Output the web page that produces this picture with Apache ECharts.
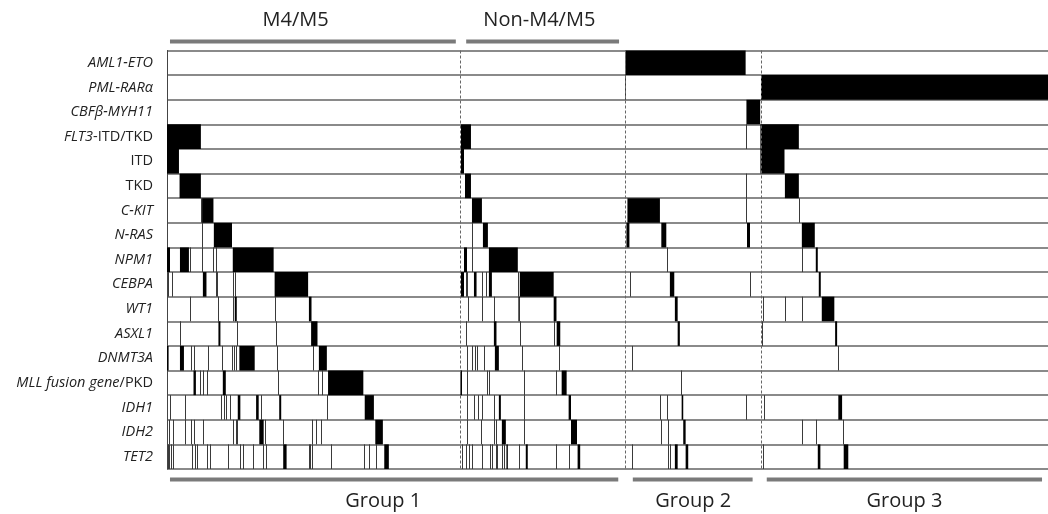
<!DOCTYPE html>
<html>
<head>
<meta charset="utf-8">
<script src="https://cdn.jsdelivr.net/npm/echarts@6/dist/echarts.min.js"></script>
<style>
  html, body { margin: 0; background: #fff; }
  #chart { width: 1048px; height: 514px; }
</style>
</head>
<body>
<div id="chart"></div>
<script>
// rows, top to bottom
const genes = ['AML1-ETO', 'PML-RARα', 'CBFβ-MYH11', 'FLT3-ITD/TKD', 'ITD', 'TKD', 'C-KIT', 'N-RAS',
  'NPM1', 'CEBPA', 'WT1', 'ASXL1', 'DNMT3A', 'MLL fusion gene/PKD', 'IDH1', 'IDH2', 'TET2'];

// x runs over patients (sample index)
const sampleMax = 442;
const groupBreaks = [147.25, 230, 298];

// mutated patients: [row, from, to]
const blocks = [
  [0, 230, 290.3],
  [1, 298, 442],
  [2, 290.7, 297.6],
  [3, 0, 17], [3, 147.5, 152.5], [3, 297.7, 317],
  [4, 0, 6], [4, 147.5, 149], [4, 297.7, 309.8],
  [5, 6.3, 17], [5, 149.5, 152.5], [5, 310, 317],
  [6, 17.6, 23.3], [6, 153, 158], [6, 231, 247.3],
  [7, 23.5, 32.6], [7, 158.5, 161], [7, 230.5, 232], [7, 248, 250.5], [7, 291, 292.5], [7, 318.5, 325],
  [8, 0, 1.5], [8, 6.5, 11], [8, 33, 53.5], [8, 149, 150.5], [8, 161.5, 176], [8, 325.5, 326.5],
  [9, 18, 19.8], [9, 54, 70.8], [9, 147.5, 149], [9, 154, 155.3], [9, 161.5, 163], [9, 177, 194],
  [9, 252.3, 254.5], [9, 327, 328],
  [10, 34, 35], [10, 71.2, 72.5], [10, 176.3, 177], [10, 194, 195.4], [10, 254.8, 256.2], [10, 328.5, 334.8],
  [11, 25.8, 26.8], [11, 72.3, 75.5], [11, 164, 165.3], [11, 195.5, 197.3], [11, 256.2, 257.3], [11, 335.2, 336.2],
  [12, 0, 0.8], [12, 6.5, 8.5], [12, 36.3, 44], [12, 76.2, 80.2], [12, 164.5, 166.5],
  [13, 13.3, 14.5], [13, 28, 29.5], [13, 80.8, 98.5], [13, 147.2, 148], [13, 198, 200.5],
  [14, 35.5, 36.8], [14, 44.7, 46], [14, 56.3, 57.3], [14, 99.2, 103.8], [14, 166.5, 167.5], [14, 201.5, 202.7],
  [14, 258.2, 259], [14, 336.8, 338.7],
  [15, 46.3, 48.5], [15, 104.5, 108.3], [15, 168, 170], [15, 202.7, 205.7], [15, 259, 260.2],
  [16, 58.3, 60], [16, 109, 111.3], [16, 170.3, 171], [16, 180, 181], [16, 206, 207.3], [16, 254.8, 256.2],
  [16, 260.2, 261.5], [16, 326.5, 327.8], [16, 339.5, 341.8]
];

// single patients with another mutation drawn as thin rules: [row, at]
const ticks = [
  [1, 230],
  [3, 290.7], [5, 290.7],
  [6, 17.2], [6, 290.7], [6, 317],
  [7, 17.6], [7, 153],
  [8, 11.3], [8, 17.5], [8, 23.3], [8, 24.5], [8, 153], [8, 250.7], [8, 318.5],
  [9, 0.7], [9, 2.3], [9, 24.5], [9, 25.2], [9, 33.2], [9, 34], [9, 150], [9, 150.4], [9, 158], [9, 160],
  [9, 176], [9, 232.3], [9, 292.7],
  [10, 11.7], [10, 25.5], [10, 33.2], [10, 54.2], [10, 151], [10, 158], [10, 164], [10, 299], [10, 310], [10, 318.5],
  [11, 6.5], [11, 35], [11, 54.5], [11, 150], [11, 177.3], [11, 194], [11, 298.5],
  [12, 12], [12, 13.3], [12, 20.7], [12, 27.5], [12, 32.5], [12, 33.5], [12, 34.8], [12, 55], [12, 73],
  [12, 150.5], [12, 153], [12, 154.5], [12, 155.5], [12, 159], [12, 178], [12, 196.5], [12, 233.2], [12, 336.5],
  [13, 16.5], [13, 18.3], [13, 20.3], [13, 55.5], [13, 76], [13, 78], [13, 150.5], [13, 160.7], [13, 161.5],
  [13, 179], [13, 195], [13, 257.8],
  [14, 1.3], [14, 9], [14, 27.3], [14, 28.5], [14, 29.8], [14, 31.5], [14, 47.3], [14, 80.5], [14, 150.5],
  [14, 154], [14, 156], [14, 158], [14, 164], [14, 179], [14, 247.3], [14, 250.7], [14, 290.7], [14, 299.3],
  [15, 0.8], [15, 3], [15, 9], [15, 11.8], [15, 13.3], [15, 18], [15, 33.3], [15, 34.5], [15, 35.3], [15, 49],
  [15, 58], [15, 72.5], [15, 74.8], [15, 77.5], [15, 150.5], [15, 157.3], [15, 164], [15, 165.3], [15, 179],
  [15, 247.8], [15, 251.5], [15, 318.5], [15, 325.7], [15, 339],
  [16, 0.3], [16, 1], [16, 1.8], [16, 3.2], [16, 12.5], [16, 13.8], [16, 14.9], [16, 19.9], [16, 21.5], [16, 30.7],
  [16, 36.5], [16, 38.2], [16, 43], [16, 48.3], [16, 49.8], [16, 71], [16, 71.8], [16, 72.8], [16, 82.3], [16, 99],
  [16, 101.5], [16, 104.8], [16, 148], [16, 150], [16, 151.5], [16, 153], [16, 158], [16, 162], [16, 163],
  [16, 165], [16, 165.7], [16, 168], [16, 169.3], [16, 176.5], [16, 195], [16, 201.5], [16, 233.5], [16, 251.5],
  [16, 252.3], [16, 299]
];

// brackets above and below: [from, to]
const topSpans = [[1.5, 144.9], [150.1, 226.8]];
const topNames = ['M4/M5', 'Non-M4/M5'];
const topCenters = [64.5, 186.8];
const bottomSpans = [[1.5, 226.4], [233.7, 293.8], [300.9, 439]];
const bottomNames = ['Group 1', 'Group 2', 'Group 3'];
const bottomCenters = [108.5, 264, 370];

const chart = echarts.init(document.getElementById('chart'));

function geneLabel(name) {
  if (name === 'ITD' || name === 'TKD') return '{n|' + name + '}';
  if (name === 'FLT3-ITD/TKD') return '{i|FLT3}{n|-ITD/TKD}';
  if (name === 'MLL fusion gene/PKD') return '{i|MLL fusion gene}{n|/PKD}';
  return '{i|' + name + '}';
}

function renderBlock(params, api) {
  const row = api.value(0);
  const a = api.coord([api.value(1), row]);
  const b = api.coord([api.value(2), row]);
  const h = api.size([0, 1])[1];
  return {
    type: 'rect',
    shape: { x: a[0], y: a[1] - h / 2, width: b[0] - a[0], height: h },
    style: { fill: '#000' }
  };
}

function renderTick(params, api) {
  const p = api.coord([api.value(1), api.value(0)]);
  const h = api.size([0, 1])[1];
  const x = Math.round(p[0]) + 0.5;
  return {
    type: 'line',
    shape: { x1: x, y1: p[1] - h / 2, x2: x, y2: p[1] + h / 2 },
    style: { stroke: '#3a3a3a', lineWidth: 1 }
  };
}

function spanRenderer(offset) {
  return function (params, api) {
    const cs = params.coordSys;
    const a = api.coord([api.value(0), 0]);
    const b = api.coord([api.value(1), 0]);
    const y = offset < 0 ? cs.y + offset : cs.y + cs.height + offset;
    return {
      type: 'rect',
      shape: { x: a[0], y: y - 2, width: b[0] - a[0], height: 4 },
      style: { fill: '#7a7a7a' }
    };
  };
}

function labelRenderer(names, offset) {
  return function (params, api) {
    const cs = params.coordSys;
    const p = api.coord([api.value(0), 0]);
    const y = offset < 0 ? cs.y + offset : cs.y + cs.height + offset;
    return {
      type: 'text',
      style: {
        x: p[0], y: y, text: names[params.dataIndex], align: 'center', verticalAlign: 'middle',
        fill: '#222', font: '20px "Open Sans"'
      }
    };
  };
}

chart.setOption({
  animation: false,
  grid: { left: 167, top: 50.5, width: 884, height: 418.5 },
  xAxis: {
    type: 'value', min: 0, max: sampleMax, show: false
  },
  yAxis: {
    type: 'category',
    data: genes,
    inverse: true,
    axisTick: { show: false },
    axisLine: { show: true, lineStyle: { color: '#444', width: 1 } },
    splitLine: { show: true, interval: 0, lineStyle: { color: '#8a8a8a', width: 2 } },
    axisLabel: {
      margin: 14,
      interval: 0,
      formatter: geneLabel,
      rich: {
        i: { fontFamily: 'Open Sans', fontStyle: 'italic', fontSize: 14.5, color: '#222' },
        n: { fontFamily: 'Open Sans', fontSize: 14.5, color: '#222' }
      }
    }
  },
  series: [
    {
      type: 'custom',
      renderItem: renderBlock,
      encode: { x: [1, 2], y: 0 },
      data: blocks,
      markLine: {
        silent: true,
        symbol: ['none', 'none'],
        label: { show: false },
        lineStyle: { type: [3, 2], color: '#666', width: 1 },
        data: groupBreaks.map(v => ({ xAxis: v }))
      },
      z: 3
    },
    {
      type: 'custom',
      renderItem: renderTick,
      encode: { x: 1, y: 0 },
      data: ticks,
      z: 2
    },
    { type: 'custom', renderItem: spanRenderer(-9), encode: { x: [0, 1] }, data: topSpans },
    { type: 'custom', renderItem: spanRenderer(10.5), encode: { x: [0, 1] }, data: bottomSpans },
    { type: 'custom', renderItem: labelRenderer(topNames, -30.5), encode: { x: 0 }, data: topCenters },
    { type: 'custom', renderItem: labelRenderer(bottomNames, 32), encode: { x: 0 }, data: bottomCenters }
  ]
});
</script>
</body>
</html>
